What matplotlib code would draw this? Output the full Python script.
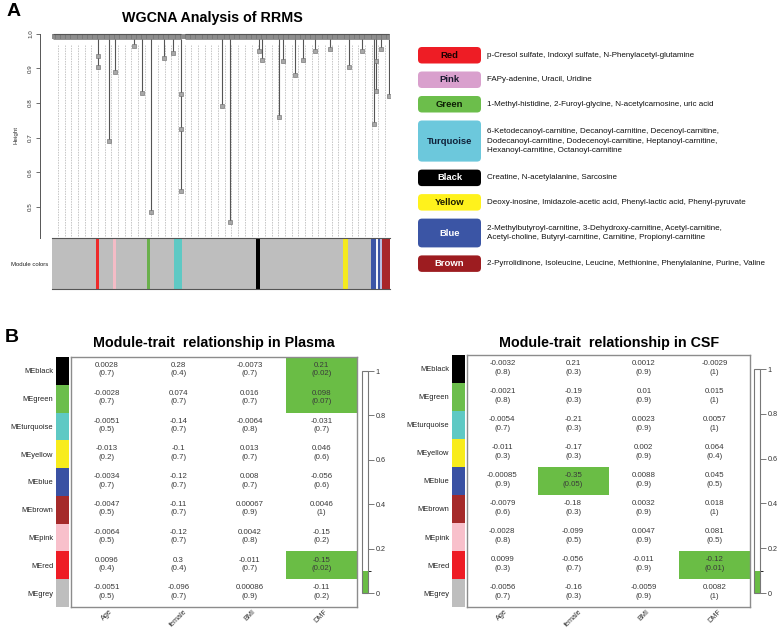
import numpy as np
import matplotlib
matplotlib.use("Agg")
import matplotlib.pyplot as plt
import matplotlib as mpl
from matplotlib.colors import ListedColormap, BoundaryNorm
from matplotlib.patches import FancyBboxPatch

plt.rcParams['font.family'] = ['Liberation Sans', 'DejaVu Sans']

# ---------------- panel A data ----------------
# module colour strip under the dendrogram (runs of leaves)
strip_colors = ['grey', 'red', 'grey', 'pink', 'grey', 'green', 'grey', 'turquoise',
                'grey', 'black', 'grey', 'yellow', 'grey', 'blue', 'white', 'blue',
                'lavender', 'brown']
strip_counts = [26, 2, 8, 2, 18, 2, 14, 5, 44, 2, 49, 3, 14, 3, 1, 1, 1, 5]

# deeper branches of the dendrogram: leaf index and lowest height
branch_leaf = [27, 33, 37, 48, 53, 58, 66, 71, 76, 100, 105, 122, 124, 134, 136,
               143, 148, 155, 164, 175, 183, 190, 191, 194, 199]
branch_low = [0.905, 0.69, 0.89, 0.965, 0.83, 0.485, 0.93, 0.945, 0.545, 0.79,
              0.455, 0.95, 0.925, 0.76, 0.92, 0.88, 0.925, 0.95, 0.955, 0.905,
              0.95, 0.74, 0.835, 0.955, 0.82]
# small knots drawn part-way down some branches
knot_leaf = [27, 76, 76, 191]
knot_height = [0.935, 0.825, 0.725, 0.92]

module_names = ['Red', 'Pink', 'Green', 'Turquoise', 'Black', 'Yellow', 'Blue', 'Brown']
module_box_colors = ['#ee1d25', '#d9a0cd', '#6cbe4b', '#6cc8dc', '#000000',
                     '#fff21c', '#3b55a5', '#9d1c20']
module_text_colors = ['#1a0000', '#1a1a2e', '#0d1f05', '#10223a', 'white',
                      '#1a1a00', 'white', 'white']
module_metabolites = [
    "p-Cresol sulfate, Indoxyl sulfate, N-Phenylacetyl-glutamine",
    "FAPy-adenine, Uracil, Uridine",
    "1-Methyl-histidine, 2-Furoyl-glycine, N-acetylcarnosine, uric acid",
    "6-Ketodecanoyl-carnitine, Decanoyl-carnitine, Decenoyl-carnitine,\n"
    "Dodecanoyl-carnitine, Dodecenoyl-carnitine, Heptanoyl-carnitine,\n"
    "Hexanoyl-carnitine, Octanoyl-carnitine",
    "Creatine, N-acetylalanine, Sarcosine",
    "Deoxy-inosine, Imidazole-acetic acid, Phenyl-lactic acid, Phenyl-pyruvate",
    "2-Methylbutyroyl-carnitine, 3-Dehydroxy-carnitine, Acetyl-carnitine,\n"
    "Acetyl-choline, Butyryl-carnitine, Carnitine, Propionyl-carnitine",
    "2-Pyrrolidinone, Isoleucine, Leucine, Methionine, Phenylalanine, Purine, Valine",
]

# ---------------- panel B data ----------------
me_rows = ['MEblack', 'MEgreen', 'MEturquoise', 'MEyellow', 'MEblue',
           'MEbrown', 'MEpink', 'MEred', 'MEgrey']
traits = ['Age', 'female', 'BMI', 'DMF']

plasma_cor = [[0.0028, 0.28, -0.0073, 0.21],
              [-0.0028, 0.074, 0.016, 0.098],
              [-0.0051, -0.14, -0.0064, -0.031],
              [-0.013, -0.1, 0.013, 0.046],
              [-0.0034, -0.12, 0.008, -0.056],
              [-0.0047, -0.11, 0.00067, 0.0046],
              [-0.0064, -0.12, 0.0042, -0.15],
              [0.0096, 0.3, -0.011, -0.15],
              [-0.0051, -0.096, 0.00086, -0.11]]
plasma_p = [[0.7, 0.4, 0.7, 0.02],
            [0.7, 0.7, 0.7, 0.07],
            [0.5, 0.7, 0.8, 0.7],
            [0.2, 0.7, 0.7, 0.6],
            [0.7, 0.7, 0.7, 0.6],
            [0.5, 0.7, 0.9, 1],
            [0.5, 0.7, 0.8, 0.2],
            [0.4, 0.4, 0.7, 0.02],
            [0.5, 0.7, 0.9, 0.2]]

csf_cor = [[-0.0032, 0.21, 0.0012, -0.0029],
           [-0.0021, -0.19, 0.01, 0.015],
           [-0.0054, -0.21, 0.0023, 0.0057],
           [-0.011, -0.17, 0.002, 0.064],
           [-0.00085, -0.35, 0.0088, 0.045],
           [-0.0079, -0.18, 0.0032, 0.018],
           [-0.0028, -0.099, 0.0047, 0.081],
           [0.0099, -0.056, -0.011, -0.12],
           [-0.0056, -0.16, -0.0059, 0.0082]]
csf_p = [[0.8, 0.3, 0.9, 1],
         [0.8, 0.3, 0.9, 1],
         [0.7, 0.3, 0.9, 1],
         [0.3, 0.3, 0.9, 0.4],
         [0.9, 0.05, 0.9, 0.5],
         [0.6, 0.3, 0.9, 1],
         [0.8, 0.5, 0.9, 0.5],
         [0.3, 0.7, 0.9, 0.01],
         [0.7, 0.3, 0.9, 1]]

# colours
strip_palette = {'grey': '#bebebe', 'red': '#ee2a2a', 'pink': '#f4bcc6',
                 'green': '#6ab04c', 'turquoise': '#5ec9c4', 'black': '#000000',
                 'yellow': '#f5ea1e', 'blue': '#3d55a6', 'white': '#f4f4f8',
                 'lavender': '#b8bde0', 'brown': '#a8262a'}
side_colors = ['#000000', '#6cbe4c', '#5fc9c4', '#f8ec1c', '#3a51a3',
               '#a52a2a', '#f8c0cb', '#ee1c25', '#bebebe']
sig_green = '#6abd45'

W, H = 780, 633
fig = plt.figure(figsize=(7.8, 6.33), dpi=100)


def px_axes(x0, y0, x1, y1):
    return fig.add_axes([x0 / W, 1 - y1 / H, (x1 - x0) / W, (y1 - y0) / H])


# overlay for free text and legend boxes (pixel coordinates)
ov = fig.add_axes([0, 0, 1, 1])
ov.set_xlim(0, W)
ov.set_ylim(H, 0)
ov.axis('off')
ov.patch.set_visible(False)

ov.text(14, 11, 'A', fontsize=14, fontweight='bold', ha='center', va='center')
ov.text(12, 337, 'B', fontsize=14, fontweight='bold', ha='center', va='center')
ov.text(212, 18, 'WGCNA Analysis of RRMS', fontsize=10.3, fontweight='bold',
        ha='center', va='center')

# ---------------- dendrogram ----------------
n_leaves = sum(strip_counts)
ax_d = px_axes(52, 32, 390, 238)
ax_d.set_xlim(0, n_leaves)
ax_d.set_ylim(0.41, 1.005)

guides = np.arange(3.5, n_leaves - 2, 3.95)
ax_d.vlines(guides, 0.415, 0.968, color='#b8b8b8', lw=0.55, linestyle=(0, (2, 1.4)))

leaves = np.arange(n_leaves) + 0.5
left = leaves[leaves < 77]
right = leaves[leaves > 78]
ax_d.vlines(leaves, 0.984, 0.999, color='#777777', lw=1.2)
ax_d.hlines(0.999, left[0], left[-1], color='#555555', lw=0.8)
ax_d.hlines(0.999, right[0], right[-1], color='#555555', lw=0.8)
ax_d.hlines(0.984, left[0], left[-1], color='#666666', lw=0.5)
ax_d.hlines(0.984, right[0], right[-1], color='#666666', lw=0.5)

bx = np.array(branch_leaf) + 0.5
ax_d.vlines(bx, np.array(branch_low), 0.984, color='#555555', lw=0.8)
ax_d.plot(bx, branch_low, 's', ms=2.2, mfc='#a8a8a8', mec='#666666', mew=0.4)
ax_d.plot(np.array(knot_leaf) + 0.5, knot_height, 's', ms=2.2, mfc='#a8a8a8',
          mec='#666666', mew=0.4)

for s in ['top', 'right', 'bottom']:
    ax_d.spines[s].set_visible(False)
ax_d.spines['left'].set_position(('outward', 8.6))
ax_d.spines['left'].set_bounds(0.41, 1.0)
ax_d.spines['left'].set_color('#555555')
ax_d.spines['left'].set_linewidth(0.7)
ax_d.set_xticks([])
yt = [0.5, 0.6, 0.7, 0.8, 0.9, 1.0]
ax_d.set_yticks(yt, ['%.1f' % v for v in yt], rotation=90, va='center',
                fontsize=4.5, color='#333333')
ax_d.tick_params(axis='y', length=3, width=0.6, color='#555555', pad=2)
ax_d.set_ylabel('Height', fontsize=4.5, color='#333333', labelpad=7)

# module colour strip
ax_s = px_axes(52, 238, 390, 289)
starts = np.concatenate([[0], np.cumsum(strip_counts)[:-1]])
for st, cnt, c in zip(starts, strip_counts, strip_colors):
    ax_s.broken_barh([(st, cnt)], (0, 1), facecolors=strip_palette[c], lw=0)
ax_s.set_xlim(0, n_leaves)
ax_s.set_ylim(0, 1)
ax_s.set_xticks([])
ax_s.set_yticks([])
for s in ['left', 'right']:
    ax_s.spines[s].set_visible(False)
for s in ['top', 'bottom']:
    ax_s.spines[s].set_color('#555555')
    ax_s.spines[s].set_linewidth(0.8)
ov.text(30, 264, 'Module colors', fontsize=4.3, ha='center', va='center', color='#222222')

# ---------------- legend of modules ----------------
y = 47
for name, bc, tc, txt in zip(module_names, module_box_colors, module_text_colors,
                             module_metabolites):
    nlines = txt.count('\n') + 1
    h = 16.5 + (nlines - 1) * 12.3
    ov.add_patch(FancyBboxPatch((418, y), 63, h, boxstyle='round,pad=0,rounding_size=4',
                                fc=bc, ec='none'))
    ov.text(449.5, y + h / 2, name, fontsize=6.8, fontweight='bold', color=tc,
            ha='center', va='center')
    ov.text(487, y + h / 2, txt, fontsize=5.8, color='#111111', ha='left',
            va='center', linespacing=1.45)
    y += h + 8

# ---------------- heatmaps ----------------
cmap = ListedColormap([sig_green, 'white'])
norm = BoundaryNorm([0, 0.1, 1], 2)


def heatmap(box, side, cbar, cor, pval, title, label_x):
    ax = px_axes(*box)
    pv = np.array(pval, dtype=float)
    ax.pcolormesh(np.arange(len(traits) + 1), np.arange(len(me_rows) + 1), pv,
                  cmap=cmap, norm=norm)
    ax.set_xlim(0, len(traits))
    ax.set_ylim(len(me_rows), 0)
    for i in range(len(me_rows)):
        for j in range(len(traits)):
            ax.text(j + 0.5, i + 0.46, '%g\n(%g)' % (cor[i][j], pval[i][j]),
                    ha='center', va='center', fontsize=5.7, color='#3a3a3a',
                    linespacing=1.25)
    ax.set_yticks([])
    ax.set_xticks(np.arange(len(traits)) + 0.5, traits, rotation=45, ha='center',
                  fontsize=5.2, color='#333333')
    ax.tick_params(axis='x', length=0, pad=1)
    for s in ax.spines.values():
        s.set_color('#8c8c8c')
        s.set_linewidth(1.0)

    sa = px_axes(*side)
    sa.pcolormesh(np.arange(2), np.arange(len(me_rows) + 1),
                  np.arange(len(me_rows)).reshape(-1, 1),
                  cmap=ListedColormap(side_colors))
    sa.set_ylim(len(me_rows), 0)
    sa.set_xticks([])
    sa.set_yticks(np.arange(len(me_rows)) + 0.5, me_rows, fontsize=5.4, color='#222222')
    sa.tick_params(axis='y', length=0, pad=2)
    for s in sa.spines.values():
        s.set_visible(False)

    ca = px_axes(*cbar)
    cb = fig.colorbar(mpl.cm.ScalarMappable(norm=norm, cmap=cmap), cax=ca,
                      spacing='proportional', ticks=[0, 0.2, 0.4, 0.6, 0.8, 1])
    cb.ax.set_yticklabels(['0', '0.2', '0.4', '0.6', '0.8', '1'])
    cb.outline.set_edgecolor('#777777')
    cb.outline.set_linewidth(0.8)
    ca.tick_params(length=4, width=0.7, color='#777777', labelsize=5.2,
                   labelcolor='#333333', pad=1.5)

    ov.text(label_x, 343, title, fontsize=10.3, fontweight='bold',
            ha='center', va='center')


heatmap((71, 357, 357, 607), (56, 357, 69, 607), (362, 371, 368, 593),
        plasma_cor, plasma_p, 'Module-trait  relationship in Plasma', 214)
heatmap((467, 355, 750, 607), (452, 355, 465, 607), (754, 369, 760, 593),
        csf_cor, csf_p, 'Module-trait  relationship in CSF', 609)

fig.savefig('out.png', dpi=100)
